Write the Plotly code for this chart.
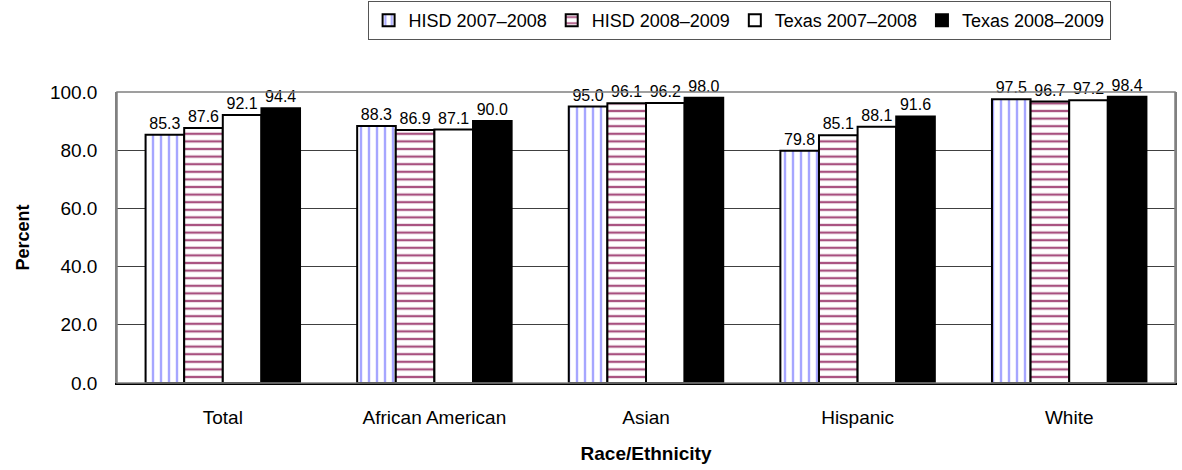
import plotly.graph_objects as go

categories = ["Total", "African American", "Asian", "Hispanic", "White"]
series_names = ["HISD 2007\u20132008", "HISD 2008\u20132009", "Texas 2007\u20132008", "Texas 2008\u20132009"]
hisd_2007_08 = [85.3, 88.3, 95.0, 79.8, 97.5]
hisd_2008_09 = [87.6, 86.9, 96.1, 85.1, 96.7]
texas_2007_08 = [92.1, 87.1, 96.2, 88.1, 97.2]
texas_2008_09 = [94.4, 90.0, 98.0, 91.6, 98.4]
y_ticks = [0, 20, 40, 60, 80, 100]

FONT = "Liberation Sans, Arial, sans-serif"

styles = [
    dict(marker=dict(color="white", line=dict(color="black", width=2),
                     pattern=dict(shape="|", fgcolor="#a6a6ff", bgcolor="white",
                                  size=8, solidity=0.3, fillmode="replace"))),
    dict(marker=dict(color="white", line=dict(color="black", width=2),
                     pattern=dict(shape="-", fgcolor="#a8507f", bgcolor="white",
                                  size=7.6, solidity=0.3, fillmode="replace"))),
    dict(marker=dict(color="white", line=dict(color="black", width=2))),
    dict(marker=dict(color="black", line=dict(color="black", width=2))),
]

fig = go.Figure()
for name, vals, st in zip(series_names,
                          [hisd_2007_08, hisd_2008_09, texas_2007_08, texas_2008_09],
                          styles):
    fig.add_trace(go.Bar(
        x=categories, y=vals, name=name,
        text=[f"{v:.1f}" for v in vals],
        textposition="outside",
        textfont=dict(family=FONT, size=16, color="black"),
        cliponaxis=False,
        **st,
    ))

fig.update_layout(
    width=1182, height=470,
    margin=dict(l=117, r=5, t=92, b=87),
    paper_bgcolor="white", plot_bgcolor="white",
    barmode="group", bargap=0.27, bargroupgap=0,
    font=dict(family=FONT, size=19, color="black"),
    uniformtext=dict(mode=False),
    legend=dict(orientation="h", x=0.588, xanchor="center",
                y=0.998, yanchor="top", yref="container",
                bordercolor="#555555", borderwidth=1,
                font=dict(family=FONT, size=18), itemwidth=30,
                tracegroupgap=0, traceorder="normal"),
    showlegend=True,
)

fig.update_xaxes(
    showgrid=False, showline=True, linecolor="black", linewidth=2,
    mirror=False, ticks="", ticklabelstandoff=16,
    tickfont=dict(family=FONT, size=19),
    title=dict(text="<b>Race/Ethnicity</b>", font=dict(family=FONT, size=19), standoff=20),
)
fig.update_yaxes(
    range=[0, 100], tickvals=y_ticks, ticktext=[f"{v:.1f}" for v in y_ticks],
    showgrid=True, gridcolor="#404040", gridwidth=1,
    showline=True, linecolor="#808080", linewidth=1.5, mirror=True,
    ticks="", ticklabelstandoff=14,
    tickfont=dict(family=FONT, size=19),
    title=dict(text="<b>Percent</b>", font=dict(family=FONT, size=18), standoff=16),
    zeroline=False,
)
# outer frame of the plotting area
fig.add_shape(type="rect", xref="paper", yref="paper", x0=0, x1=1, y0=0, y1=1,
              line=dict(color="#808080", width=1.5), layer="above")

fig.write_html("out.html")
